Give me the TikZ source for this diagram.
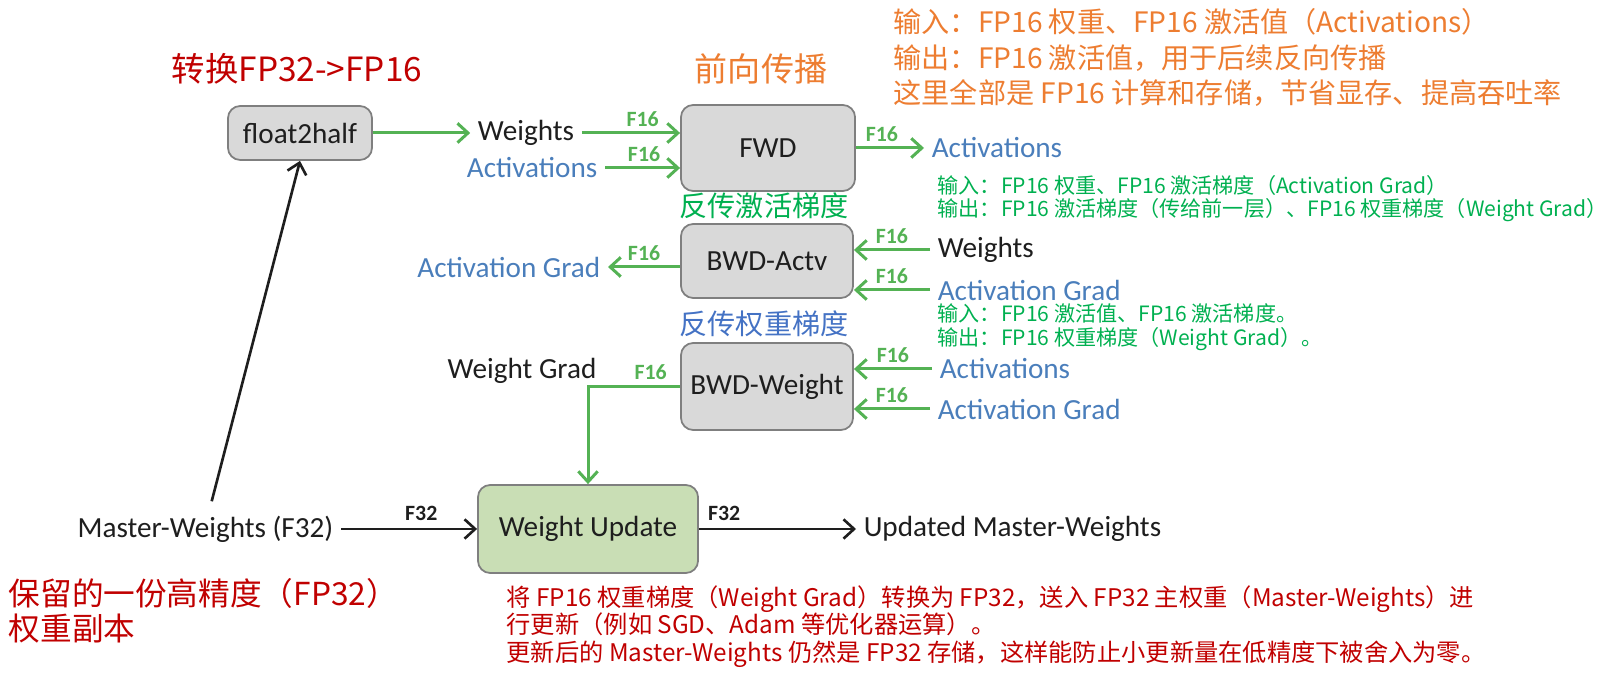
\documentclass[tikz,border=0pt]{standalone}
\usepackage{fontspec}
\setmainfont{Carlito}
\newfontfamily\cjk{Noto Sans CJK SC}
\usetikzlibrary{arrows.meta}

\definecolor{cred}{HTML}{C00000}
\definecolor{corange}{HTML}{ED7D31}
\definecolor{cgreen}{HTML}{00B050}
\definecolor{ctitleblue}{HTML}{4472C4}
\definecolor{clabblue}{HTML}{4A7EBB}
\definecolor{carrow}{RGB}{84,178,84}
\definecolor{boxgray}{HTML}{D9D9D9}
\definecolor{boxline}{HTML}{7F7F7F}
\definecolor{upfill}{HTML}{C9DEB5}
\definecolor{ink}{HTML}{1E1E1E}

\begin{document}
\begin{tikzpicture}[x=0.01cm,y=-0.01cm,
  opbox/.style={draw=boxline, line width=0.5pt, fill=boxgray, rounded corners=3.5pt,
    text=ink, font=\fontsize{8.3}{10}\selectfont, inner sep=0pt},
  lab/.style={font=\fontsize{8.3}{10}\selectfont, inner sep=2pt},
  blk/.style={lab, text=ink},
  blu/.style={lab, text=clabblue},
  garrow/.style={draw=carrow, line width=0.85pt, -{Straight Barb[length=3pt,width=5.5pt]}},
  karrow/.style={draw=ink, line width=0.75pt, -{Straight Barb[length=3pt,width=5.5pt]}},
  f16/.style={text=carrow, font=\fontsize{6.2}{7}\selectfont\bfseries, inner sep=1.5pt, above},
  f32/.style={text=ink, font=\fontsize{6.2}{7}\selectfont\bfseries, inner sep=2pt, above},
  ttl/.style={font=\cjk\fontsize{#1}{#1}\selectfont, inner sep=0pt},
  note/.style={font=\cjk\fontsize{#1}{#1}\selectfont, inner sep=0pt, align=left, anchor=west},
]
\useasboundingbox (0,0) rectangle (1610,680);

% operation boxes
\node[opbox, minimum width=1.44cm, minimum height=0.54cm] (f2h) at (300,133) {float2half};
\node[opbox, minimum width=1.74cm, minimum height=0.86cm] (fwd) at (768,148) {FWD};
\node[opbox, minimum width=1.72cm, minimum height=0.74cm] (bwa) at (767,261) {BWD-Actv};
\node[opbox, minimum width=1.72cm, minimum height=0.87cm] (bww) at (767,386.5) {BWD-Weight};
\node[opbox, fill=upfill, minimum width=2.20cm, minimum height=0.88cm] (wu) at (588,529) {Weight Update};

% tensor labels
\node[blk, anchor=center] (w1) at (526,133) {Weights};
\node[blu, anchor=east] (a1) at (605,168) {Activations};
\node[blu, anchor=west] (a2) at (924,148) {Activations};
\node[blu, anchor=east] (ag1) at (608,267) {Activation Grad};
\node[blk, anchor=west] (w2) at (930,250) {Weights};
\node[blu, anchor=west] (ag2) at (930,290) {Activation Grad};
\node[blk] (wg) at (522,371) {Weight Grad};
\node[blu, anchor=west] (a3) at (932,369) {Activations};
\node[blu, anchor=west] (ag3) at (930,409) {Activation Grad};
\node[blk, anchor=east] (mw) at (341,529) {Master-Weights (F32)};
\node[blk, anchor=west] (umw) at (856,529) {Updated Master-Weights};

% titles
\node[ttl=9.5, text=cred] (t1) at (297,69) {转换FP32->FP16};
\node[ttl=9.4, text=corange] (t2) at (761,69) {前向传播};
\node[ttl=8, text=cgreen] (t3) at (764,206) {反传激活梯度};
\node[ttl=8, text=ctitleblue] (t4) at (764,324) {反传权重梯度};

% notes
\node[note=8, text=corange, execute at begin node=\setlength{\baselineskip}{10pt}] (n1) at (893,57.5)
  {输入：FP16 权重、FP16 激活值（Activations）\\输出：FP16 激活值，用于后续反向传播\\这里全部是 FP16 计算和存储，节省显存、提高吞吐率};
\node[note=6, text=cgreen, execute at begin node=\setlength{\baselineskip}{6.5pt}] (n2) at (937,198.5)
  {输入：FP16 权重、FP16 激活梯度（Activation Grad）\\输出：FP16 激活梯度（传给前一层）、FP16 权重梯度（Weight Grad）};
\node[note=6, text=cgreen, execute at begin node=\setlength{\baselineskip}{6.8pt}] (n3) at (937,327)
  {输入：FP16 激活值、FP16 激活梯度。\\输出：FP16 权重梯度（Weight Grad）。};
\node[note=9, text=cred, execute at begin node=\setlength{\baselineskip}{10pt}] (n4) at (8,610.5)
  {保留的一份高精度（FP32）\\权重副本};
\node[note=6.9, text=cred, execute at begin node=\setlength{\baselineskip}{7.8pt}] (n5) at (506,626.5)
  {将 FP16 权重梯度（Weight Grad）转换为 FP32，送入 FP32 主权重（Master-Weights）进\\行更新（例如 SGD、Adam 等优化器运算）。\\更新后的 Master-Weights 仍然是 FP32 存储，这样能防止小更新量在低精度下被舍入为零。};

% forward pass
\draw[garrow] (f2h.east) -- (w1.west);
\draw[garrow] (w1.east) -- node[f16, pos=0.62] {F16} (fwd.west |- w1);
\draw[garrow] (a1.east) -- node[f16, pos=0.52] {F16} (fwd.west |- a1);
\draw[garrow] (fwd.east |- a2) -- node[f16, pos=0.38] {F16} (a2.west);

% backward activations
\draw[garrow] (bwa.west |- ag1) -- node[f16] {F16} (ag1.east);
\draw[garrow] (w2.west) -- node[f16] {F16} (bwa.east |- w2);
\draw[garrow] (ag2.west) -- node[f16] {F16} (bwa.east |- ag2);

% backward weights
\draw[garrow] (a3.west) -- node[f16] {F16} (bww.east |- a3);
\draw[garrow] (ag3.west) -- node[f16] {F16} (bww.east |- ag3);
\draw[garrow] (bww.west) -| node[f16, pos=0.16] {F16} (wu.north);

% master weights
\draw[karrow] (mw.east) -- node[f32, pos=0.59] {F32} (wu.west);
\draw[karrow] (wu.east) -- node[f32, pos=0.16] {F32} (umw.west);
\draw[karrow, shorten <=2pt] ([xshift=0.45mm]mw.north) -- (f2h.south);
\end{tikzpicture}
\end{document}
